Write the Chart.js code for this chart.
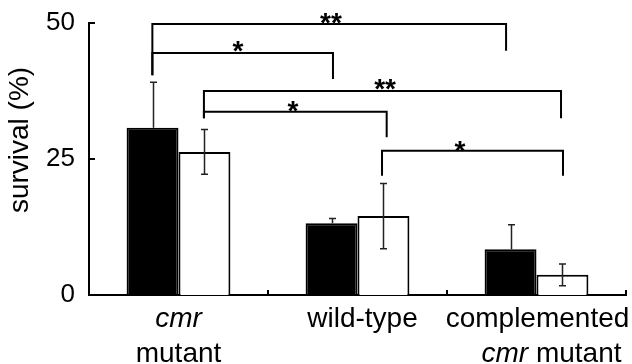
<!DOCTYPE html>
<html>
<head>
<meta charset="utf-8">
<script src="https://cdn.jsdelivr.net/npm/chart.js@4/dist/chart.umd.min.js"></script>
<style>
  html, body { margin: 0; padding: 0; background: #fff; }
  canvas { display: block; }
</style>
</head>
<body>
<canvas id="survivalChart" width="632" height="364"></canvas>
<script>
const categories = ['cmr mutant', 'wild-type', 'complemented cmr mutant'];
const filledValues = [30.75, 13.2, 8.4];
const filledErrors = [8.35, 0.85, 4.5];
const openValues = [26.3, 14.5, 3.7];
const openErrors = [4.1, 6.0, 2.0];
const yTicks = [0, 25, 50];

// x label lines, each a list of [text, italic]
const xLabelLines = [
  [[['cmr', true]], [['mutant', false]]],
  [[['wild-type', false]]],
  [[['complemented', false]], [['cmr', true], [' mutant', false]]]
];
const xLabelShift = [[0, 0], [5], [1, 15]];

// significance brackets: [xFrom, xTo, y, leftEnd, rightEnd] in axis units
const brackets = [
  [-0.146, 1.83, 49.8, 40.4, 44.9],
  [-0.146, 0.863, 44.5, 40.4, 39.7],
  [0.142, 2.137, 37.5, 32.5, 32.5],
  [0.142, 1.163, 33.7, 32.5, 29.0],
  [1.137, 2.148, 26.5, 21.9, 21.9]
];
const stars = [['**', 0.852, 51.3], ['*', 0.332, 46.1], ['**', 1.154, 39.2], ['*', 0.64, 35.1], ['*', 1.573, 27.8]];

const FONT = "'Liberation Sans', Arial, sans-serif";

const extrasPlugin = {
  id: 'extras',
  afterDatasetsDraw(chart) {
    const ctx = chart.ctx;
    const x = chart.scales.x, y = chart.scales.y;
    ctx.save();
    // error bars (filled bars only show the upper whisker)
    ctx.strokeStyle = '#222';
    ctx.lineWidth = 1.5;
    [[filledValues, filledErrors], [openValues, openErrors]].forEach((pair, di) => {
      const meta = chart.getDatasetMeta(di);
      meta.data.forEach((bar, i) => {
        const cx = Math.round(bar.x) + 0.5;
        const top = y.getPixelForValue(pair[0][i] + pair[1][i]);
        const bot = di === 0 ? y.getPixelForValue(pair[0][i]) : y.getPixelForValue(pair[0][i] - pair[1][i]);
        ctx.beginPath();
        ctx.moveTo(cx, top); ctx.lineTo(cx, bot);
        ctx.moveTo(cx - 3.5, top); ctx.lineTo(cx + 3.5, top);
        if (di === 1) { ctx.moveTo(cx - 3.5, bot); ctx.lineTo(cx + 3.5, bot); }
        ctx.stroke();
      });
    });
    // brackets
    ctx.strokeStyle = '#000';
    ctx.lineWidth = 2;
    brackets.forEach(b => {
      const x1 = x.getPixelForValue(b[0]), x2 = x.getPixelForValue(b[1]);
      ctx.beginPath();
      ctx.moveTo(x1, y.getPixelForValue(b[3]));
      ctx.lineTo(x1, y.getPixelForValue(b[2]));
      ctx.lineTo(x2, y.getPixelForValue(b[2]));
      ctx.lineTo(x2, y.getPixelForValue(b[4]));
      ctx.stroke();
    });
    ctx.fillStyle = '#000';
    ctx.font = 'bold 28px ' + FONT;
    ctx.textAlign = 'center';
    ctx.textBaseline = 'alphabetic';
    stars.forEach(s => {
      ctx.fillText(s[0], x.getPixelForValue(s[1]), y.getPixelForValue(s[2]) + 16);
    });
    ctx.restore();
  },
  afterDraw(chart) {
    const ctx = chart.ctx;
    const area = chart.chartArea;
    const x = chart.scales.x, y = chart.scales.y;
    ctx.save();
    ctx.strokeStyle = '#000';
    ctx.lineWidth = 2;
    // inward tick marks
    yTicks.slice(1).forEach(v => {
      const py = Math.round(y.getPixelForValue(v));
      ctx.beginPath();
      ctx.moveTo(area.left, py); ctx.lineTo(area.left + 6, py);
      ctx.stroke();
    });
    for (let i = 0; i <= categories.length; i++) {
      const px = Math.round(x.getPixelForValue(i - 0.5));
      ctx.beginPath();
      ctx.moveTo(px, area.bottom); ctx.lineTo(px, area.bottom - 5);
      ctx.stroke();
    }
    // category labels
    ctx.fillStyle = '#000';
    ctx.textBaseline = 'alphabetic';
    ctx.textAlign = 'left';
    xLabelLines.forEach((lines, ci) => {
      const cx = x.getPixelForValue(ci);
      lines.forEach((parts, li) => {
        let w = 0;
        parts.forEach(p => {
          ctx.font = (p[1] ? 'italic ' : '') + '28px ' + FONT;
          w += ctx.measureText(p[0]).width;
        });
        let px = cx + xLabelShift[ci][li] - w / 2;
        const py = area.bottom + 32 + li * 35;
        parts.forEach(p => {
          ctx.font = (p[1] ? 'italic ' : '') + '28px ' + FONT;
          ctx.fillText(p[0], px, py);
          px += ctx.measureText(p[0]).width;
        });
      });
    });
    // y axis title
    ctx.font = '28px ' + FONT;
    ctx.textAlign = 'center';
    ctx.translate(27.5, (area.top + area.bottom) / 2 - 19);
    ctx.rotate(-Math.PI / 2);
    ctx.fillText('survival (%)', 0, 0);
    ctx.restore();
  }
};

const chart = new Chart(document.getElementById('survivalChart').getContext('2d'), {
  type: 'bar',
  data: {
    labels: categories,
    datasets: [{
      label: 'filled',
      data: filledValues,
      backgroundColor: '#000',
      borderColor: '#000',
      borderWidth: 2
    }, {
      label: 'open',
      data: openValues,
      backgroundColor: '#fff',
      borderColor: '#000',
      borderWidth: 2
    }]
  },
  options: {
    responsive: false,
    animation: false,
    categoryPercentage: 0.58,
    barPercentage: 1,
    layout: { padding: { top: 23, right: 6, bottom: 69, left: 0 } },
    plugins: {
      legend: { display: false },
      tooltip: { enabled: false }
    },
    scales: {
      x: {
        grid: { display: false, drawTicks: false },
        border: { display: true, color: '#000', width: 2 },
        ticks: { display: false }
      },
      y: {
        min: 0,
        max: 50,
        afterBuildTicks: s => { s.ticks = yTicks.map(v => ({ value: v })); },
        afterFit: s => { s.width = 89; s.paddingTop = 0; s.paddingBottom = 0; },
        grid: { display: false, drawTicks: false },
        border: { display: true, color: '#000', width: 2 },
        ticks: {
          color: '#000',
          padding: 14,
          font: { family: FONT, size: 26 }
        }
      }
    }
  },
  plugins: [extrasPlugin]
});
</script>
</body>
</html>
